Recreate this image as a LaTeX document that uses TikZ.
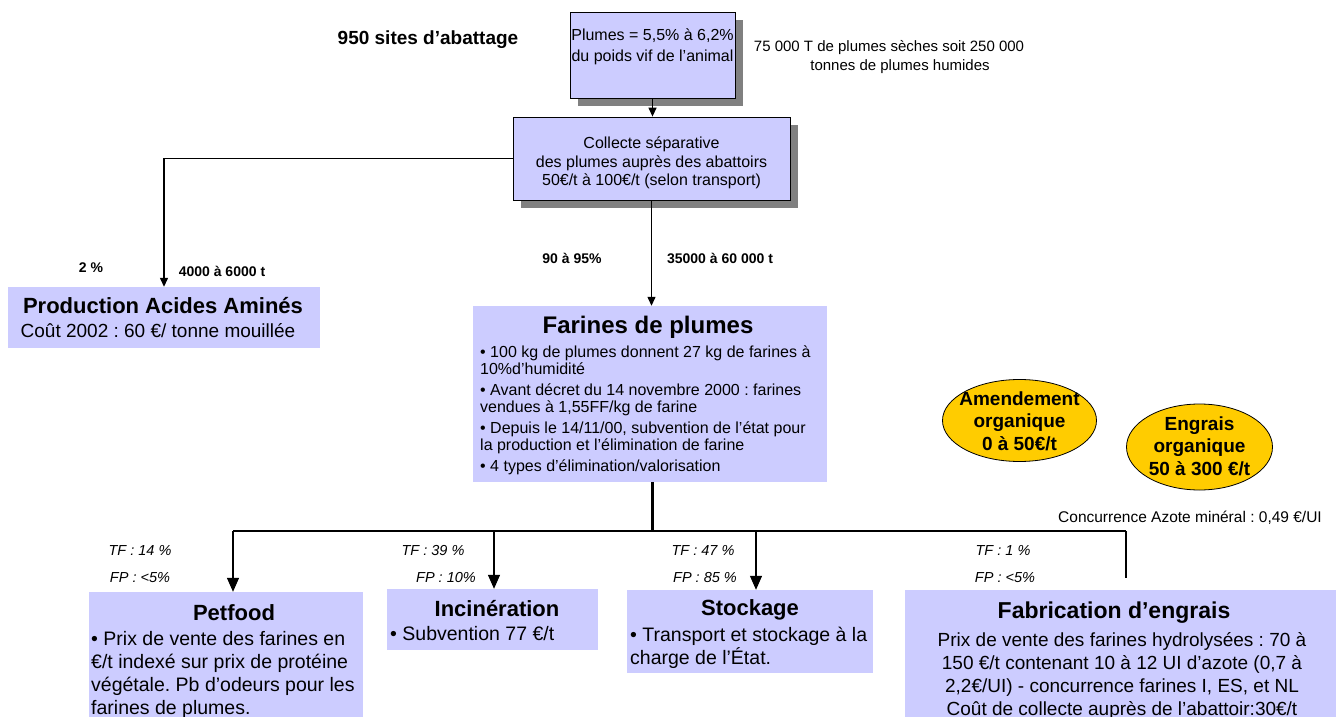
\documentclass[tikz,border=0pt]{standalone}
\usepackage{fontspec}
\setmainfont{Liberation Sans}
\usetikzlibrary{arrows.meta,shadows,shapes.geometric}
\definecolor{lav}{HTML}{CCCCFF}
\definecolor{gold}{HTML}{FFCC00}
\definecolor{shade}{HTML}{808080}
\newcommand\fs[2]{\fontsize{#1}{#2}\selectfont}
\frenchspacing
\begin{document}
\begin{tikzpicture}[x=1pt,y=-1pt,
  box/.style={fill=lav, inner sep=0pt},
  shbox/.style={box, draw=black, line width=0.8pt,
    drop shadow={shadow xshift=8pt, shadow yshift=-8pt, fill=shade, opacity=1}},
  oval/.style={ellipse, draw=black, fill=gold, line width=0.8pt, inner sep=0pt},
  txt/.style={inner sep=0pt},
  lbl/.style={txt, font=\fs{14}{16}\bfseries},
  tfl/.style={txt, font=\fs{14.5}{17}\itshape},
  link/.style={line width=1.3pt},
  arr/.style={link, -{Triangle[width=8pt,length=9pt]}},
  bigarr/.style={link, -{Triangle[width=12pt,length=14pt]}}]

\path[use as bounding box, fill=white] (0,0) rectangle (1342,717);

% header texts
\node[txt, font=\fs{19}{22}\bfseries] (sites) at (428,40) {950 sites d’abattage};
\node[txt, align=center, font=\fs{15}{19}] (tonnes) at (889,57)
  {75 000 T de plumes sèches soit 250 000\\ \hspace*{22pt}tonnes de plumes humides};

% upper boxes
\node[shbox, minimum width=165pt, minimum height=86pt] (plumes) at (652.5,55) {};
\node[txt, align=center, font=\fs{16}{21}] (plumestxt) at (652.5,47)
  {Plumes = 5,5\% à 6,2\%\\du poids vif de l’animal};

\node[shbox, minimum width=277pt, minimum height=83pt] (collecte) at (651.5,158.5) {};
\node[txt, align=center, font=\fs{16}{18.5}] (collectetxt) at (651.5,163)
  {Collecte séparative\\des plumes auprès des abattoirs\\50€/t à 100€/t (selon transport)};

% production of amino acids
\node[box, minimum width=312pt, minimum height=61pt] (prod) at (164,317.5) {};
\node[txt, font=\fs{22}{24}\bfseries] (prodtitle) at (163,306) {Production Acides Aminés};
\node[txt, font=\fs{19}{21}] (prodtxt) at (158,331) {Coût 2002 : 60 €/ tonne mouillée};

% feather meal
\node[box, minimum width=354pt, minimum height=176pt] (farines) at (650,394) {};
\node[txt, font=\fs{24}{26}\bfseries] (farinestitle) at (648,327) {Farines de plumes};
\node[txt, anchor=west, align=left, font=\fs{16}{17}] (farinestxt) at (480,410)
  {• 100 kg de plumes donnent 27 kg de farines à\\10\%d’humidité\\[4pt]
   • Avant décret du 14 novembre 2000 : farines\\vendues à 1,55FF/kg de farine\\[4pt]
   • Depuis le 14/11/00, subvention de l’état pour\\la production et l’élimination de farine\\[4pt]
   • 4 types d’élimination/valorisation};

% flow labels
\node[lbl] (l2) at (91,268) {2 \%};
\node[lbl] (l4000) at (222,271) {4000 à 6000 t};
\node[lbl] (l90) at (572,258) {90 à 95\%};
\node[lbl] (l35000) at (720,258) {35000 à 60 000 t};

% price ovals
\node[oval, minimum width=154pt, minimum height=82pt] (amend) at (1019.5,420.5) {};
\node[txt, align=center, font=\fs{19}{22.5}\bfseries] (amendtxt) at (1019.5,421)
  {Amendement\\organique\\0 à 50€/t};
\node[oval, minimum width=146pt, minimum height=86pt] (engrais) at (1199.5,447) {};
\node[txt, align=center, font=\fs{19}{22.5}\bfseries] (engraistxt) at (1199.5,446)
  {Engrais\\organique\\50 à 300 €/t};
\node[txt, font=\fs{15.5}{18}] (azote) at (1190,518) {Concurrence Azote minéral : 0,49 €/UI};

% outlets
\node[box, minimum width=274pt, minimum height=125pt] (petfood) at (226,654.5) {};
\node[txt, font=\fs{22}{24}\bfseries] (petfoodtitle) at (234,613) {Petfood};
\node[txt, anchor=west, align=left, font=\fs{19.5}{23}] (petfoodtxt) at (91,675)
  {• Prix de vente des farines en\\€/t indexé sur prix de protéine\\végétale. Pb d’odeurs pour les\\farines de plumes.};

\node[box, minimum width=211pt, minimum height=61pt] (incin) at (492.5,619.5) {};
\node[txt, font=\fs{22}{24}\bfseries] (incintitle) at (497,609) {Incinération};
\node[txt, anchor=west, font=\fs{19.5}{23}] (incintxt) at (390,634) {• Subvention 77 €/t};

\node[box, minimum width=246pt, minimum height=83pt] (stock) at (750,631.5) {};
\node[txt, font=\fs{22}{24}\bfseries] (stocktitle) at (750,610) {Stockage};
\node[txt, anchor=west, align=left, font=\fs{19.5}{23}] (stocktxt) at (630,648)
  {• Transport et stockage à la\\charge de l’État.};

\node[box, minimum width=431pt, minimum height=127pt] (fab) at (1120.5,653.5) {};
\node[txt, font=\fs{23}{25}\bfseries] (fabtitle) at (1114,613) {Fabrication d’engrais};
\node[txt, align=center, font=\fs{19}{23}] (fabtxt) at (1122,676)
  {Prix de vente des farines hydrolysées : 70 à\\150 €/t contenant 10 à 12 UI d’azote (0,7 à\\2,2€/UI) - concurrence farines I, ES, et NL\\Coût de collecte auprès de l’abattoir:30€/t};

% shares of each outlet
\node[tfl] (tf1) at (140,551) {TF : 14 \%};
\node[tfl] (fp1) at (140,578) {FP : <5\%};
\node[tfl] (tf2) at (433,551) {TF : 39 \%};
\node[tfl] (fp2) at (446,578) {FP : 10\%};
\node[tfl] (tf3) at (703,551) {TF : 47 \%};
\node[tfl] (fp3) at (705,578) {FP : 85 \%};
\node[tfl] (tf4) at (1003,551) {TF : 1 \%};
\node[tfl] (fp4) at (1005,578) {FP : <5\%};

% connectors
\draw[arr] (plumes) -- (plumes.south |- collecte.north);
\draw[arr] (collecte.west) -| (prod.north);
\draw[arr] (collecte.south) -- (collecte.south |- farines.north);

\coordinate (split) at (652,531);
\coordinate (ba) at (233,531);
\coordinate (bb) at (494,531);
\coordinate (bc) at (756,531);
\coordinate (bd) at (1126,531);
\coordinate (fabend) at (1126,578);

\draw[line width=3pt] (split |- farines.south) -- (split);
\draw[link] (ba) -- (bd);
\draw[bigarr] (ba) -- (ba |- petfood.north);
\draw[bigarr] (bb) -- (bb |- incin.north);
\draw[bigarr] (bc) -- (bc |- stock.north);
\draw[link] (bd) -- (fabend);
\end{tikzpicture}
\end{document}
